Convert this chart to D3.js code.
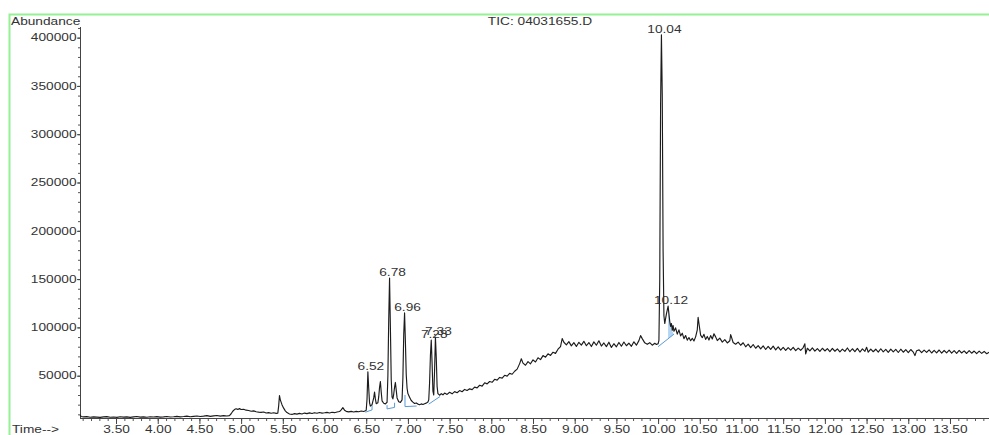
<!DOCTYPE html>
<html>
<head>
<meta charset="utf-8">
<script src="https://cdn.jsdelivr.net/npm/d3@7"></script>
<style>
  html, body { margin: 0; padding: 0; background: #fff; }
  svg { display: block; }
  text { font-family: "Liberation Sans", Arial, sans-serif; font-size: 10px; fill: #333; }
</style>
</head>
<body>
<svg id="chart" width="989" height="435"></svg>
<script>
// ---- data -------------------------------------------------------------
const chartTitle = "TIC: 04031655.D";
const yAxisTitle = "Abundance";
const xAxisTitle = "Time-->";

const timeTicks = [3.5, 4.0, 4.5, 5.0, 5.5, 6.0, 6.5, 7.0, 7.5, 8.0, 8.5, 9.0, 9.5, 10.0, 10.5, 11.0, 11.5, 12.0, 12.5, 13.0, 13.5];
const abundanceTicks = [50000, 100000, 150000, 200000, 250000, 300000, 350000, 400000];

// integrated peaks: retention time (min) and apex abundance (thousands of counts)
const peakTimes = [6.52, 6.78, 6.96, 7.28, 7.33, 10.04, 10.12];
const peakApex  = [54, 151, 115, 87, 90, 403, 122];

// total ion current: [retention time (min), abundance (thousands of counts)]
const ticTrace = [
  [3.07,9.6],[3.08,7.8],[3.11,7.3],[3.15,7.6],[3.19,7.0],[3.23,7.4],[3.27,7.1],[3.31,6.8],[3.35,7.3],[3.39,7.6],
  [3.43,7.0],[3.47,7.2],[3.51,6.9],[3.55,7.5],[3.59,7.1],[3.63,7.4],[3.67,6.9],[3.71,7.3],[3.75,7.7],[3.79,7.1],
  [3.83,7.4],[3.87,7.0],[3.91,7.5],[3.95,7.2],[3.99,7.6],[4.03,7.1],[4.07,7.4],[4.11,7.8],[4.15,7.2],[4.19,7.5],
  [4.23,7.9],[4.27,7.3],[4.31,7.7],[4.35,8.2],[4.39,7.5],[4.43,7.9],[4.47,8.3],[4.51,7.7],[4.55,8.1],[4.59,8.6],
  [4.63,7.9],[4.67,8.4],[4.71,8.8],[4.75,8.1],[4.79,8.6],[4.83,8.3],[4.86,8.7],
  [4.88,10.6],[4.90,13.2],[4.92,14.9],[4.94,15.7],[4.96,15.1],[4.98,15.9],[5.00,15.0],[5.03,15.3],[5.06,14.3],
  [5.09,14.0],[5.12,13.2],[5.15,13.6],[5.18,12.7],[5.21,12.3],[5.24,12.0],[5.27,12.4],[5.30,11.4],[5.33,11.8],
  [5.36,11.1],[5.39,11.6],[5.42,11.0],[5.44,11.2],[5.45,18.5],[5.46,29.5],[5.47,25.0],[5.49,20.0],[5.51,16.4],
  [5.53,13.6],[5.55,11.8],[5.58,10.4],[5.61,9.9],[5.64,10.7],[5.67,10.2],[5.70,11.0],[5.73,10.4],[5.76,11.3],
  [5.79,10.7],[5.82,11.5],[5.85,10.9],[5.88,11.7],[5.91,11.1],[5.94,11.9],[5.97,11.3],[6.00,11.6],[6.03,12.0],
  [6.06,11.4],[6.09,12.1],[6.12,11.7],[6.15,12.4],[6.18,12.9],[6.20,14.7],[6.22,16.9],[6.24,14.3],[6.26,13.1],
  [6.29,12.5],[6.32,13.0],[6.35,12.4],[6.38,13.1],[6.41,12.7],[6.44,13.4],[6.47,12.9],[6.49,13.7],
  [6.50,14.2],[6.51,26],[6.52,54],[6.53,37],[6.54,22],[6.55,18.5],[6.57,20],[6.59,27],[6.60,33],[6.61,26],
  [6.62,21],[6.64,22],[6.65,28],[6.66,38],[6.67,44],[6.68,33],[6.69,24],[6.71,21.5],[6.73,20.8],[6.75,22.5],
  [6.76,50],[6.77,108],[6.78,151],[6.79,100],[6.80,46],[6.81,28],[6.82,26],[6.83,31],[6.84,38],[6.85,43],
  [6.86,35],[6.87,27],[6.89,23],[6.91,22.4],[6.93,25],[6.94,48],[6.95,93],[6.96,115],[6.97,85],[6.98,51],
  [6.99,37],[7.00,31.5],[7.02,27.8],[7.04,24.3],[7.06,22.6],[7.08,21.2],[7.10,21.8],[7.12,20.6],[7.14,20.0],
  [7.16,20.8],[7.18,20.2],[7.20,21.0],[7.22,21.6],[7.24,22.8],[7.25,25],[7.26,43],[7.27,71],[7.28,87],[7.29,63],
  [7.30,34],[7.31,30],[7.32,56],[7.33,90],[7.34,69],[7.35,39],[7.36,31.5],[7.38,29.8],[7.40,31.4],[7.42,30.2],
  [7.44,32.0],
  [7.47,30.6],[7.50,32.8],[7.53,31.2],[7.56,33.5],[7.59,32.4],[7.62,34.6],[7.65,33.4],[7.68,35.8],[7.71,34.7],
  [7.74,36.4],[7.77,35.6],[7.80,38.2],[7.83,37.4],[7.86,40.1],[7.89,39.2],[7.92,42.6],[7.95,41.5],[7.98,44.0],
  [8.01,43.2],[8.04,46.3],[8.07,45.4],[8.10,48.2],[8.13,47.5],[8.16,50.4],[8.19,49.6],[8.22,52.4],[8.25,51.5],
  [8.28,54.6],[8.31,56.8],[8.34,62.5],[8.36,67.5],[8.38,63.0],[8.41,60.8],[8.44,64.6],[8.47,62.3],[8.50,66.4],
  [8.53,64.2],[8.56,68.5],[8.59,66.6],[8.62,70.8],[8.65,69.2],[8.68,72.6],[8.71,71.0],[8.74,74.3],[8.77,73.1],
  [8.80,77.4],[8.83,80.2],[8.85,88.5],[8.87,84.6],[8.90,82.0],[8.93,85.3],[8.96,80.9],[8.99,84.2],[9.02,80.3],
  [9.05,84.6],[9.08,81.7],[9.11,85.6],[9.14,81.0],[9.17,84.3],[9.20,80.2],[9.23,85.0],[9.26,81.5],[9.29,86.1],
  [9.32,80.7],[9.35,83.9],[9.38,80.1],[9.41,84.7],[9.44,79.3],[9.47,83.1],[9.50,79.9],[9.53,84.4],[9.56,80.5],
  [9.59,84.9],[9.62,81.0],[9.65,83.7],[9.68,80.4],[9.71,85.1],[9.74,81.6],[9.77,86.3],[9.79,91.5],[9.81,88.4],
  [9.84,84.0],[9.87,82.5],[9.90,84.2],[9.93,81.6],[9.96,83.5],[9.98,82.4],
  [10.00,83.0],[10.01,86.5],[10.02,150],[10.03,330],[10.04,403],[10.05,340],[10.06,180],[10.07,112],[10.08,104],
  [10.09,109],[10.10,114],[10.11,118],[10.12,122],[10.13,114],[10.14,106],[10.15,101],[10.16,104],[10.17,97],
  [10.18,102],[10.19,96],[10.21,99.5],[10.23,93.0],[10.25,97.4],[10.27,91.2],[10.29,94.0],[10.31,88.4],
  [10.33,91.6],[10.35,86.8],[10.37,89.5],[10.39,86.2],[10.41,88.7],[10.43,85.9],[10.45,90.2],[10.47,97.5],
  [10.48,110.5],[10.49,104],[10.51,92.0],[10.53,89.4],[10.55,92.8],[10.57,87.6],[10.59,90.6],[10.61,86.9],
  [10.63,91.5],[10.65,88.0],[10.67,93.4],[10.69,90.2],[10.71,86.4],[10.74,88.9],[10.77,84.8],[10.80,87.3],
  [10.83,83.9],[10.86,86.2],[10.87,92.5],[10.88,90.0],[10.90,84.4],[10.93,82.6],[10.96,84.8],[10.99,81.5],
  [11.02,84.1],[11.05,79.9],[11.08,82.7],[11.11,79.1],[11.14,82.3],[11.17,78.4],[11.20,81.2],[11.23,77.7],
  [11.26,80.8],[11.29,77.1],[11.32,80.4],[11.35,77.3],[11.38,80.6],[11.41,76.7],[11.44,79.9],[11.47,76.5],
  [11.50,79.3],[11.53,76.1],[11.56,79.0],[11.59,76.4],[11.62,79.4],[11.65,75.9],[11.68,78.6],[11.71,76.3],
  [11.74,79.1],[11.76,83.0],[11.77,72.5],[11.79,78.4],[11.82,75.7],[11.85,78.8],[11.88,75.4],[11.91,78.1],
  [11.94,75.1],[11.97,78.4],[12.00,75.6],[12.03,78.0],[12.06,74.9],[12.09,78.2],[12.12,75.3],[12.15,77.8],
  [12.18,74.7],[12.21,77.5],[12.24,75.1],[12.27,78.7],[12.30,74.8],[12.33,77.9],[12.36,75.0],[12.39,78.3],
  [12.42,74.5],[12.45,77.7],[12.48,75.2],[12.50,79.4],[12.52,74.3],[12.55,77.6],[12.58,74.8],[12.61,77.4],
  [12.64,74.4],[12.67,77.9],[12.70,74.7],[12.73,77.3],[12.76,74.1],[12.79,77.5],[12.82,74.6],[12.85,77.2],
  [12.88,74.0],[12.91,77.4],[12.94,74.3],[12.97,76.9],[13.00,73.9],[13.03,77.1],[13.06,74.4],[13.08,70.8],
  [13.10,75.9],[13.13,76.7],[13.16,73.8],[13.19,76.5],[13.22,74.1],[13.25,76.8],[13.28,73.5],[13.31,76.3],
  [13.34,73.7],[13.37,76.6],[13.40,73.4],[13.43,76.1],[13.46,73.6],[13.49,76.4],[13.52,73.3],[13.55,75.9],
  [13.58,73.1],[13.61,76.2],[13.64,73.5],[13.67,75.7],[13.70,73.0],[13.73,76.0],[13.76,73.3],[13.79,75.5],
  [13.82,72.8],[13.85,75.4],[13.88,73.1],[13.91,75.1],[13.94,72.7],[13.97,74.2]
];

// integration baselines drawn under the peaks (time, thousands of counts)
const integrationBaselines = [
  [[6.49,12.2],[6.57,14.6],[6.57,19.5]],
  [[6.75,19.5],[6.75,15.6],[6.84,17.2],[6.84,22.0]],
  [[6.965,30.0],[6.965,18.0],[7.105,18.6]],
  [[7.25,20.6],[7.385,28.4]],
  [[10.00,80.0],[10.19,93.0]]
];
const shadedRegion = [[10.12,120],[10.14,105],[10.17,96],[10.19,93],[10.12,88.3]];

// ---- layout -----------------------------------------------------------
const W = 989, H = 435;
const axisX = 80, axisY = 418, axisTopY = 27;
const timeDomain = [3.068, 13.968];
const abundanceFloor = 6200, abundanceTop = 411000;
const SX = 1.37;              // horizontal stretch of the printout lettering
const traceColor = "#1c1c1c";
const baselineColor = "#5b9bd5";

const svg = d3.select("#chart");

const x = d3.scaleLinear().domain(timeDomain).range([axisX, W]);
const y = d3.scaleLinear().domain([abundanceFloor, abundanceTop]).range([axisY, axisTopY]);

function label(g, str, px, py, anchor) {
  return g.append("text")
    .attr("transform", `translate(${px},${py}) scale(${SX},1)`)
    .attr("text-anchor", anchor)
    .text(str);
}

// green frame
svg.append("path")
  .attr("d", `M9.5,${H} V14.5 H${W}`)
  .attr("fill", "none")
  .attr("stroke", "#96f096")
  .attr("stroke-width", 2);

// titles
label(svg, yAxisTitle, 11, 25, "start");
label(svg, chartTitle, 540, 25, "middle");
label(svg, xAxisTitle, 12, 432.5, "start");

// y axis
const yMinor = svg.append("g").attr("transform", `translate(${axisX},0)`)
  .call(d3.axisLeft(y).tickValues(d3.range(10000, 410001, 10000)).tickSize(2).tickFormat(""));
yMinor.select(".domain").remove();
yMinor.selectAll("line").attr("stroke", "#555");

const yMajor = svg.append("g").attr("transform", `translate(${axisX},0)`)
  .call(d3.axisLeft(y).tickValues(abundanceTicks).tickSize(3).tickFormat(d3.format("d")));
yMajor.select(".domain").remove();
yMajor.selectAll("line").attr("stroke", "#444");
yMajor.selectAll("text")
  .attr("x", 0)
  .attr("transform", `translate(-3.5,0) scale(${SX},1)`)
  .attr("fill", "#333")
  .style("font-family", "'Liberation Sans', Arial, sans-serif")
  .style("font-size", "10px");

svg.append("line")
  .attr("x1", axisX + 0.5).attr("x2", axisX + 0.5)
  .attr("y1", axisTopY).attr("y2", axisY)
  .attr("stroke", "#444");

// x axis
const xMinor = svg.append("g").attr("transform", `translate(0,${axisY})`)
  .call(d3.axisBottom(x).tickValues(d3.range(3.1, 13.95, 0.1)).tickSize(3).tickFormat(""));
xMinor.select(".domain").remove();
xMinor.selectAll("line").attr("stroke", "#555");

const xMajor = svg.append("g").attr("transform", `translate(0,${axisY})`)
  .call(d3.axisBottom(x).tickValues(timeTicks).tickSize(6).tickFormat(d3.format(".2f")));
xMajor.select(".domain").remove();
xMajor.selectAll("line").attr("stroke", "#444");
xMajor.selectAll("text")
  .attr("y", 7.5)
  .attr("transform", `scale(${SX},1)`)
  .attr("fill", "#333")
  .style("font-family", "'Liberation Sans', Arial, sans-serif")
  .style("font-size", "10px");

svg.append("line")
  .attr("x1", axisX).attr("x2", W)
  .attr("y1", axisY + 0.5).attr("y2", axisY + 0.5)
  .attr("stroke", "#444");

// integration shading and baselines
const lineGen = d3.line().x(d => x(d[0])).y(d => y(d[1] * 1000));

svg.append("path")
  .datum(shadedRegion)
  .attr("d", lineGen)
  .attr("fill", "#b3d4f2")
  .attr("stroke", "none");

svg.append("g").selectAll("path")
  .data(integrationBaselines)
  .join("path")
  .attr("d", lineGen)
  .attr("fill", "none")
  .attr("stroke", baselineColor)
  .attr("stroke-width", 1);

// chromatogram trace
svg.append("path")
  .datum(ticTrace)
  .attr("d", lineGen)
  .attr("fill", "none")
  .attr("stroke", traceColor)
  .attr("stroke-width", 1.15)
  .attr("stroke-linejoin", "round");

// retention time labels
const peakLayer = svg.append("g");
peakTimes.forEach((t, i) => {
  label(peakLayer, t.toFixed(2), x(t) + 3, y(peakApex[i] * 1000) - 2, "middle");
});
</script>
</body>
</html>
